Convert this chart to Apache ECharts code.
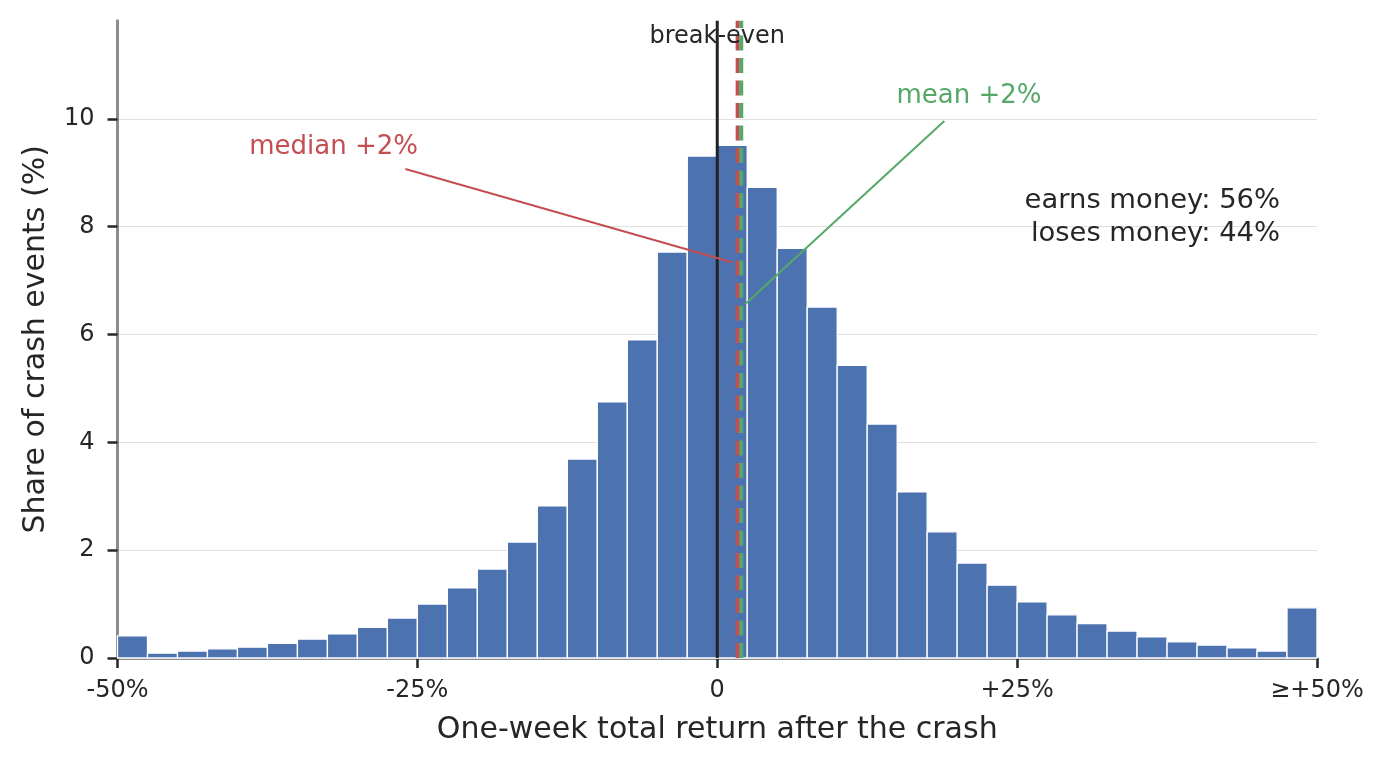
<!DOCTYPE html>
<html>
<head>
<meta charset="utf-8">
<script src="https://cdn.jsdelivr.net/npm/echarts@6/dist/echarts.min.js"></script>
<style>
html, body { margin: 0; padding: 0; background: #fff; }
#chart { width: 1387px; height: 770px; }
</style>
</head>
<body>
<div id="chart"></div>
<script>
// histogram bins: left edge of each bin (%), all bins 2.5 wide
var binStart = [-50, -47.5, -45, -42.5, -40, -37.5, -35, -32.5, -30, -27.5,
                -25, -22.5, -20, -17.5, -15, -12.5, -10, -7.5, -5, -2.5,
                0, 2.5, 5, 7.5, 10, 12.5, 15, 17.5, 20, 22.5,
                25, 27.5, 30, 32.5, 35, 37.5, 40, 42.5, 45, 47.5];
var binWidth = 2.5;
// share of crash events per bin (%)
var share = [0.41, 0.09, 0.13, 0.17, 0.20, 0.27, 0.35, 0.45, 0.57, 0.74,
             1.00, 1.30, 1.65, 2.15, 2.82, 3.69, 4.75, 5.90, 7.53, 9.31,
             9.51, 8.73, 7.60, 6.51, 5.43, 4.34, 3.08, 2.34, 1.76, 1.35,
             1.04, 0.80, 0.64, 0.50, 0.39, 0.30, 0.24, 0.19, 0.13, 0.93];

var xTicks = [-50, -25, 0, 25, 50];
var xTickLabels = ['-50%', '-25%', '0', '+25%', '≥+50%'];
var yTicks = [0, 2, 4, 6, 8, 10];
var yMax = 11.82;

var medianReturn = 1.7;
var meanReturn = 2.0;
var earnsPct = 56;
var losesPct = 44;

var FONT = 'DejaVu Sans';
var TXT = '#262626';
var BLUE = '#4c72b0', RED = '#c44e52', GREEN = '#55a868';

var chart = echarts.init(document.getElementById('chart'), null, { renderer: 'canvas' });

var barData = binStart.map(function (s, i) { return [s, s + binWidth, share[i]]; });

function vline(x, color, width, dash) {
    return {
        type: 'line', data: [[x, 0], [x, yMax]], symbol: 'none', silent: true, z: 5,
        lineStyle: { color: color, width: width, type: dash || 'solid' }
    };
}
function segment(a, b, color) {
    return {
        type: 'line', data: [a, b], symbol: 'none', silent: true, z: 6,
        lineStyle: { color: color, width: 2 }
    };
}
function note(x, y, text, color, size, align, lh) {
    return {
        type: 'scatter', data: [[x, y]], symbolSize: 0, silent: true, z: 7,
        itemStyle: { opacity: 1 },
        label: {
            show: true, position: 'inside', formatter: text, color: color,
            fontFamily: FONT, fontSize: size, align: align || 'center',
            verticalAlign: 'middle', lineHeight: lh || size * 1.2
        }
    };
}

var option = {
    animation: false,
    backgroundColor: '#fff',
    grid: { left: 117.5, right: 70, top: 20.7, bottom: 112, containLabel: false },
    xAxis: {
        type: 'value', min: -50, max: 50, interval: 25,
        name: 'One-week total return after the crash',
        nameLocation: 'middle', nameGap: 57,
        nameTextStyle: { fontFamily: FONT, fontSize: 30, color: TXT },
        axisLine: { show: true, onZero: false, lineStyle: { color: '#8c8c8c', width: 3 } },
        axisTick: { show: true, length: 10, lineStyle: { color: TXT, width: 2.5 } },
        axisLabel: {
            margin: 21, fontFamily: FONT, fontSize: 24, color: TXT,
            formatter: function (v) {
                var k = xTicks.indexOf(v);
                return k >= 0 ? xTickLabels[k] : '';
            }
        },
        splitLine: { show: false }
    },
    yAxis: {
        type: 'value', min: 0, max: yMax, interval: 2,
        name: 'Share of crash events (%)',
        nameLocation: 'middle', nameGap: 66,
        nameTextStyle: { fontFamily: FONT, fontSize: 30, color: TXT },
        axisLine: { show: true, onZero: false, lineStyle: { color: '#8c8c8c', width: 3 } },
        axisTick: { show: true, length: 10, customValues: yTicks, lineStyle: { color: TXT, width: 2.5 } },
        axisLabel: {
            margin: 23, fontFamily: FONT, fontSize: 24, color: TXT,
            customValues: yTicks,
            formatter: function (v) { return yTicks.indexOf(v) >= 0 ? String(v) : ''; }
        },
        splitLine: { show: true, showMinLine: false, lineStyle: { color: '#e0e0e0', width: 1.2 } }
    },
    series: [
        {
            type: 'custom', data: barData, z: 2, silent: true,
            encode: { x: [0, 1], y: 2 },
            renderItem: function (params, api) {
                var top = api.coord([api.value(0), api.value(2)]);
                var bot = api.coord([api.value(1), 0]);
                return {
                    type: 'rect',
                    shape: { x: top[0], y: top[1], width: bot[0] - top[0], height: bot[1] - top[1] },
                    style: { fill: BLUE, stroke: '#fff', lineWidth: 1.3 }
                };
            }
        },
        vline(0, '#222222', 3),
        vline(medianReturn, RED, 4, [15, 7.5]),
        vline(meanReturn, GREEN, 4, [15, 7.5]),
        segment([-26.0, 9.07], [1.23, 7.34], RED),
        segment([18.93, 9.96], [2.32, 6.56], GREEN),
        note(0, 11.53, 'break-even', TXT, 24),
        note(-31.99, 9.48, 'median +' + Math.round(medianReturn) + '%', RED, 26),
        note(20.99, 10.42, 'mean +' + Math.round(meanReturn) + '%', GREEN, 26),
        note(46.92, 8.17, 'earns money: ' + earnsPct + '%\nloses money: ' + losesPct + '%', TXT, 27.4, 'right', 33)
    ]
};

chart.setOption(option);
</script>
</body>
</html>
